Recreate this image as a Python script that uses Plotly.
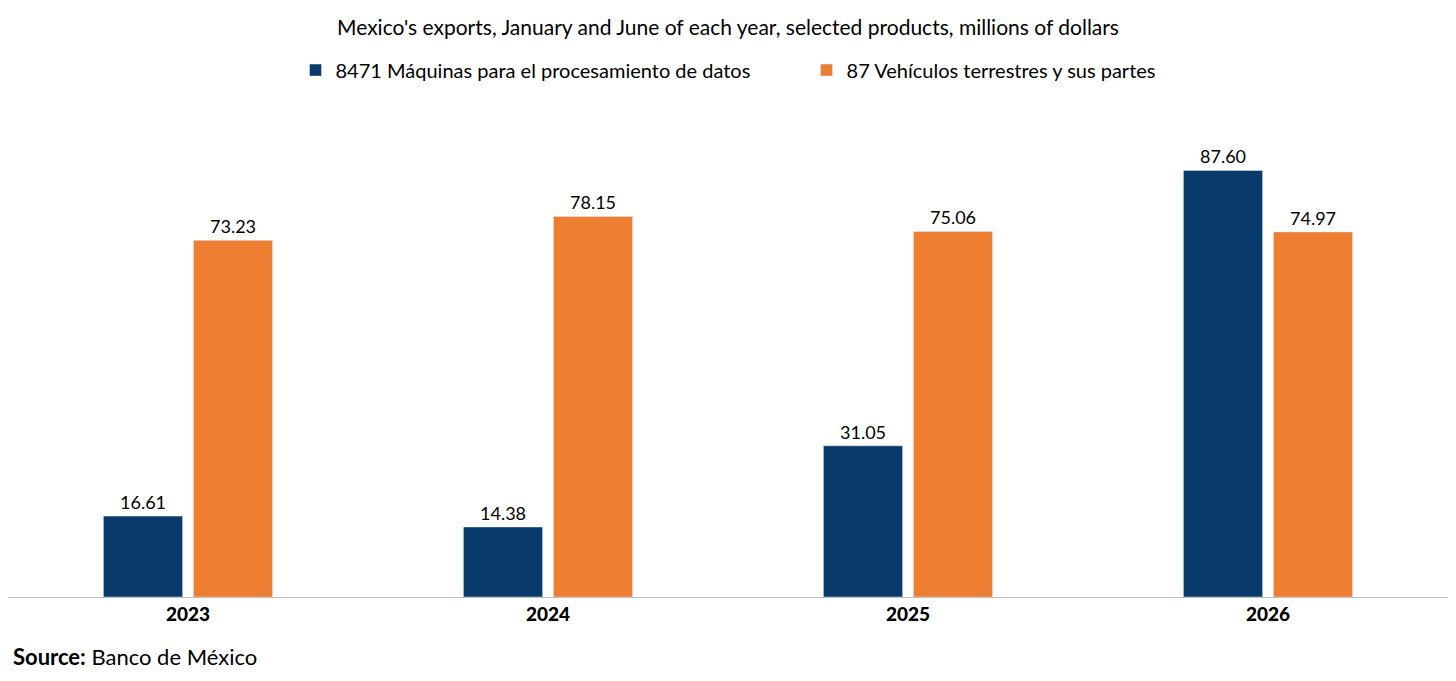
import plotly.graph_objects as go

# Data
years = ['2023', '2024', '2025', '2026']
maquinas = [16.61, 14.38, 31.05, 87.60]
vehiculos = [73.23, 78.15, 75.06, 74.97]

# Create a Plotly figure
fig = go.Figure()

fig.add_trace(go.Bar(x=years, y=maquinas, name='8471 Máquinas para el procesamiento de datos          ',
                     marker_color='#083A6B', text=[f'{v:.2f}' for v in maquinas],
                     textposition='outside', textfont=dict(size=18, color='#000000')))
fig.add_trace(go.Bar(x=years, y=vehiculos, name='87 Vehículos terrestres y sus partes',
                     marker_color='#ED7D31', text=[f'{v:.2f}' for v in vehiculos],
                     textposition='outside', textfont=dict(size=18, color='#000000')))

# Layout styled like the reference
fig.update_layout(
    title={
        'text': "Mexico's exports, January and June of each year, selected products, millions of dollars",
        'x': 0.5,  # Center the title
        'xanchor': 'center',
        'yref': 'container',
        'y': 1 - 20 / 673,
        'yanchor': 'middle',
        'font': dict(size=21, color='#000000')
    },
    font=dict(family='Lato', color='#000000'),
    barmode='group',
    bargap=0.5,
    bargroupgap=0.12,
    legend=dict(orientation='h', x=0.5, xanchor='center', y=1.082, yanchor='middle',
                font=dict(size=20), traceorder='normal', itemwidth=30),
    xaxis=dict(showline=True, linecolor='#BFBFBF', linewidth=1,
               tickfont=dict(size=19, family='Lato Black, Lato', color='#000000'), ticks=''),
    yaxis=dict(range=[0, 100], visible=False),
    plot_bgcolor='white',
    paper_bgcolor='white',
    margin=dict(l=0, r=0, t=102, b=84),
    width=1440,
    height=673,
    showlegend=True,
    annotations=[dict(text='<b>Source:</b> Banco de México', xref='paper', yref='paper',
                      x=0.002, y=-0.123, xanchor='left', yanchor='middle', showarrow=False,
                      font=dict(size=22, color='#000000'))]
)

# Save the plot
fig.write_html('out.html')
